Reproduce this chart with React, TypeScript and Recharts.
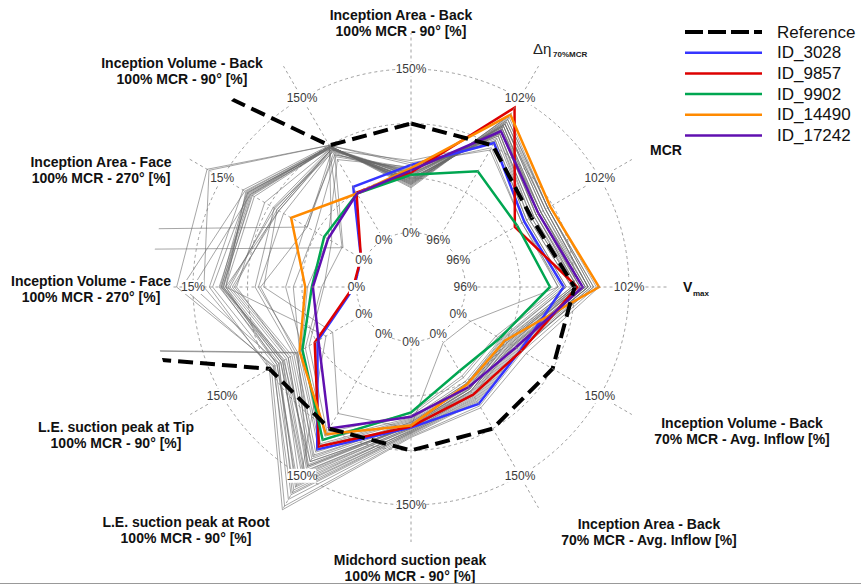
import { PolarAngleAxis, PolarGrid, PolarRadiusAxis, Radar, RadarChart } from "recharts";

// chart frame
const W = 861;
const H = 586;
const CX = 411;
const CY = 287;
const R = 218;
const CLIP_R = 259;
const FONT = "'Liberation Sans', Arial, sans-serif";

// axes, clockwise from the top
const axisKeys = ["iab100", "deta", "mcr", "vmax", "ivb70", "iab70", "mid", "leroot", "letip", "ivf", "iaf", "ivb100"];
const axisMin = [0, 96, 96, 96, 0, 0, 0, 0, 0, 0, 0, 0];
const axisMax = [150, 102, 102, 102, 150, 150, 150, 150, 150, 15, 15, 150];
const innerTicks = ["0%", "96%", "96%", "96%", "0%", "0%", "0%", "0%", "0%", "0%", "0%", "0%"];
const outerTicks = ["150%", "102%", "102%", "102%", "150%", "150%", "150%", "150%", "150%", "15%", "15%", "150%"];

// series values, in axis units (same order as axisKeys)
const reference = [100, 100, 99.1, 100, 100, 100, 100, 100, 100, 100, 100, 100];
const id3028 = [62, 100.1, 98.8, 99.6, 66, 74, 79, 122, 49, 0.2, 0.3, 56];
const id9857 = [55, 101.6, 98.4, 100.1, 67, 64, 78, 119, 52, 0.3, 0.3, 50];
const id9902 = [53, 98.9, 98.5, 99.1, 44, 39, 65, 112, 65, 4.1, 4.2, 49];
const id14490 = [59, 101.3, 99.9, 100.9, 49, 53, 77, 106, 68, 4.7, 7.7, 49];
const id17242 = [57, 100.6, 99.4, 100.3, 61, 56, 69, 100, 48, 4.0, 3.8, 49];

const grayRuns = [
  [48, 100.9, 99.6, 100.4, 58, 64, 80, 150, 88, 12.4, 12.2, 98],
  [45, 101.0, 99.7, 100.5, 62, 68, 83, 160, 92, 12.0, 12.5, 99],
  [52, 100.8, 99.4, 100.2, 55, 60, 78, 140, 80, 11.6, 9.6, 97],
  [43, 101.1, 99.8, 100.6, 66, 72, 86, 175, 95, 16.5, 16.6, 100],
  [47, 100.7, 99.3, 100.1, 52, 58, 76, 132, 76, 11.2, 9.2, 96],
  [50, 100.5, 99.1, 100.0, 50, 56, 74, 125, 72, 8.8, 6.0, 92],
  [44, 101.2, 99.8, 100.7, 64, 70, 84, 168, 90, 15.0, 12.0, 99],
  [55, 100.4, 99.0, 99.9, 48, 54, 73, 120, 70, 9.0, 8.5, 94],
  [46, 100.9, 99.6, 100.5, 60, 66, 82, 155, 86, 12.3, 11.8, 98],
  [58, 100.2, 98.9, 99.7, 46, 52, 72, 118, 68, 5.8, 5.2, 88],
  [42, 101.3, 99.9, 100.8, 68, 76, 87, 182, 98, 14.0, 16.4, 100],
  [49, 100.6, 99.5, 100.3, 56, 62, 79, 145, 84, 12.4, 12.0, 97],
  [60, 100.1, 98.8, 99.6, 45, 50, 70, 112, 66, 4.5, 3.8, 85],
  [53, 100.7, 99.4, 100.2, 54, 60, 77, 138, 82, 11.8, 9.4, 96],
  [45, 101.1, 99.8, 100.6, 63, 69, 84, 165, 94, 13.2, 12.3, 99],
  [62, 99.9, 98.7, 99.5, 42, 46, 68, 108, 62, 3.2, 2.3, 100],
  [64, 99.8, 98.7, 99.4, 40, 44, 66, 104, 58, 3.0, 3.4, 100],
  [51, 100.8, 99.5, 100.4, 57, 63, 80, 148, 88, 12.2, 11.9, 98],
  [47, 100.9, 99.7, 100.5, 59, 65, 81, 158, 92, 12.5, 12.4, 97],
  [56, 100.5, 99.2, 100.0, 50, 56, 75, 128, 74, 9.3, 9.5, 93],
  [44, 101.0, 99.8, 100.7, 65, 71, 85, 170, 96, 16.0, 12.6, 99],
  [50, 100.6, 99.3, 100.2, 53, 58, 78, 135, 78, 11.4, 9.0, 96],
  [54, 100.4, 99.1, 100.0, 52, 58, 76, 140, 70, 500, 6.0, 95],
  [57, 100.3, 99.0, 99.9, 49, 55, 74, 130, 71, 500, 2.2, 90],
  [66, 100.1, 98.8, 99.4, 13, 9, 78, 135, 85, 12.0, 9.0, 95],
  [48, 100.8, 99.5, 100.4, 58, 64, 82, 152, 40, 12.0, 11.6, 98],
  [52, 100.5, 99.2, 100.1, 55, 60, 80, 84, 33, 8.5, 9.2, 96],
  [41, 101.3, 99.9, 100.9, 72, 78, 88, 186, 100, 13.5, 12.8, 100],
  [59, 100.2, 98.9, 99.7, 47, 52, 71, 116, 65, 6.5, 6.2, 90],
  [46, 100.9, 99.7, 100.5, 61, 67, 83, 162, 90, 12.6, 12.1, 99],
  [54, 100.6, 99.3, 100.1, 51, 57, 77, 142, 80, 11.0, 10.5, 97],
  [49, 100.7, 99.5, 100.3, 57, 61, 79, 146, 86, 12.2, 12.3, 98],
];

const highlighted = [
  { name: "ID_3028", values: id3028, color: "#3535ff" },
  { name: "ID_9857", values: id9857, color: "#dd0000" },
  { name: "ID_9902", values: id9902, color: "#00a651" },
  { name: "ID_14490", values: id14490, color: "#ff8a00" },
  { name: "ID_17242", values: id17242, color: "#6010b0" },
];

// each axis maps min -> ring 1, max -> ring 4 (center is -1)
const norm = (vals: number[]) => vals.map((v, i) => ((v - axisMin[i]) / (axisMax[i] - axisMin[i])) * 3);

const data = axisKeys.map((key, i) => {
  const row: Record<string, number | string> = { axis: key, Reference: norm(reference)[i] };
  highlighted.forEach((s) => (row[s.name] = norm(s.values)[i]));
  grayRuns.forEach((g, k) => (row[`g${k}`] = norm(g)[i]));
  return row;
});

// axis title layout
const titles = [
  { x: 401, y: 15, anchor: "middle", lines: ["Inception Area - Back", "100% MCR - 90° [%]"] },
  null,
  { x: 650, y: 150, anchor: "start", lines: ["MCR"] },
  null,
  { x: 742, y: 423, anchor: "middle", lines: ["Inception Volume - Back", "70% MCR - Avg. Inflow [%]"] },
  { x: 649, y: 524, anchor: "middle", lines: ["Inception Area - Back", "70% MCR - Avg. Inflow [%]"] },
  { x: 410, y: 560, anchor: "middle", lines: ["Midchord suction peak", "100% MCR - 90° [%]"] },
  { x: 186, y: 522, anchor: "middle", lines: ["L.E. suction peak at Root", "100% MCR - 90° [%]"] },
  { x: 116, y: 427, anchor: "middle", lines: ["L.E. suction peak at Tip", "100% MCR - 90° [%]"] },
  { x: 91, y: 281, anchor: "middle", lines: ["Inception Volume - Face", "100% MCR - 270° [%]"] },
  { x: 101, y: 162, anchor: "middle", lines: ["Inception Area - Face", "100% MCR - 270° [%]"] },
  { x: 182, y: 63, anchor: "middle", lines: ["Inception Volume - Back", "100% MCR - 90° [%]"] },
];
const spokeEnd = [254, 255, 255, 258, 255, 255, 255, 255, 255, 238, 258, 255];

function RingLabel({ x, y, text }: { x: number; y: number; text: string }) {
  const w = text.length * 6.6 + 2;
  return (
    <g>
      <rect x={x - w / 2} y={y - 7} width={w} height={14} fill="#fff" />
      <text x={x} y={y} textAnchor="middle" dominantBaseline="central" fontSize={12} fill="#3a3a3a" fontFamily={FONT}>
        {text}
      </text>
    </g>
  );
}

function AxisTick(props: any) {
  const i = axisKeys.indexOf(props.payload?.value);
  if (i < 0) return null;
  const a = ((90 - i * 30) * Math.PI) / 180;
  const at = (r: number) => ({ x: CX + r * Math.cos(a), y: CY - r * Math.sin(a) });
  const p0 = at(R / 4);
  const p1 = at(spokeEnd[i]);
  const pOut = at(R);
  const t = titles[i];
  return (
    <g>
      <line x1={p0.x} y1={p0.y} x2={p1.x} y2={p1.y} stroke="#888" strokeWidth={0.8} strokeDasharray="3 3" />
      <RingLabel x={p0.x} y={p0.y} text={innerTicks[i]} />
      <RingLabel x={pOut.x} y={pOut.y} text={outerTicks[i]} />
      {t &&
        t.lines.map((ln, k) => (
          <text
            key={k}
            x={t.x}
            y={t.y + k * 15.5}
            textAnchor={t.anchor as any}
            dominantBaseline="central"
            fontSize={14}
            fontWeight="bold"
            fill="#111"
            fontFamily={FONT}
          >
            {ln}
          </text>
        ))}
      {i === 1 && (
        <g fontFamily={FONT} fill="#222">
          <text x={533} y={48} fontSize={15} dominantBaseline="central">
            Δη
          </text>
          <text x={553} y={54} fontSize={8} fontWeight="bold" dominantBaseline="central">
            70%MCR
          </text>
        </g>
      )}
      {i === 3 && (
        <g fontFamily={FONT} fill="#111" fontWeight="bold">
          <text x={683} y={287} fontSize={14} dominantBaseline="central">
            V
          </text>
          <text x={693} y={293} fontSize={8} dominantBaseline="central">
            max
          </text>
        </g>
      )}
    </g>
  );
}

function clippedShape(id: string, stroke: string, width: number, dash?: string, opacity = 1) {
  return (props: any) => {
    const pts = props.points || [];
    if (!pts.length) return <g />;
    const d = pts.map((p: any, k: number) => `${k ? "L" : "M"}${p.x},${p.y}`).join(" ") + " Z";
    return (
      <g>
        <defs>
          <clipPath id={id}>
            <circle cx={CX} cy={CY} r={CLIP_R} />
          </clipPath>
        </defs>
        <path
          d={d}
          fill="none"
          stroke={stroke}
          strokeWidth={width}
          strokeDasharray={dash}
          strokeOpacity={opacity}
          clipPath={`url(#${id})`}
        />
      </g>
    );
  };
}

const legendItems = [
  { name: "Reference", color: "#000", dash: "18 5", width: 4 },
  ...highlighted.map((s) => ({ name: s.name, color: s.color, dash: undefined, width: 2.5 })),
];

export default function App() {
  return (
    <div style={{ position: "absolute", left: 0, top: 0, width: W, height: H, background: "#fff" }}>
      <RadarChart
        width={W}
        height={H}
        data={data}
        cx={CX}
        cy={CY}
        outerRadius={R}
        innerRadius={0}
        margin={{ top: 0, right: 0, bottom: 0, left: 0 }}
      >
        <PolarGrid
          gridType="circle"
          polarRadius={[R / 4, R / 2, (3 * R) / 4, R]}
          radialLines={false}
          stroke="#888"
          strokeWidth={0.8}
          strokeDasharray="3 3"
        />
        <PolarAngleAxis dataKey="axis" tick={AxisTick} axisLine={false} tickLine={false} />
        <PolarRadiusAxis domain={[-1, 3]} type="number" allowDataOverflow tick={false} axisLine={false} />
        {grayRuns.map((_, k) => (
          <Radar
            key={`g${k}`}
            dataKey={`g${k}`}
            isAnimationActive={false}
            shape={clippedShape(`clip-g${k}`, "#6a6a6a", 0.8, undefined, 0.75)}
          />
        ))}
        {highlighted.map((s) => (
          <Radar
            key={s.name}
            dataKey={s.name}
            isAnimationActive={false}
            shape={clippedShape(`clip-${s.name}`, s.color, 2.5)}
          />
        ))}
        <Radar
          dataKey="Reference"
          isAnimationActive={false}
          shape={clippedShape("clip-ref", "#000", 4, "15 7")}
        />
      </RadarChart>
      <svg width={W} height={H} style={{ position: "absolute", left: 0, top: 0, pointerEvents: "none" }}>
        {legendItems.map((it, k) => {
          const y = 32 + k * 20.7;
          return (
            <g key={it.name}>
              <line x1={685} x2={762} y1={y} y2={y} stroke={it.color} strokeWidth={it.width} strokeDasharray={it.dash} />
              <text x={777} y={y} dominantBaseline="central" fontSize={17} fill="#111" fontFamily={FONT}>
                {it.name}
              </text>
            </g>
          );
        })}
        <line x1={0} x2={W} y1={583.5} y2={583.5} stroke="#999" strokeWidth={1} />
      </svg>
    </div>
  );
}
